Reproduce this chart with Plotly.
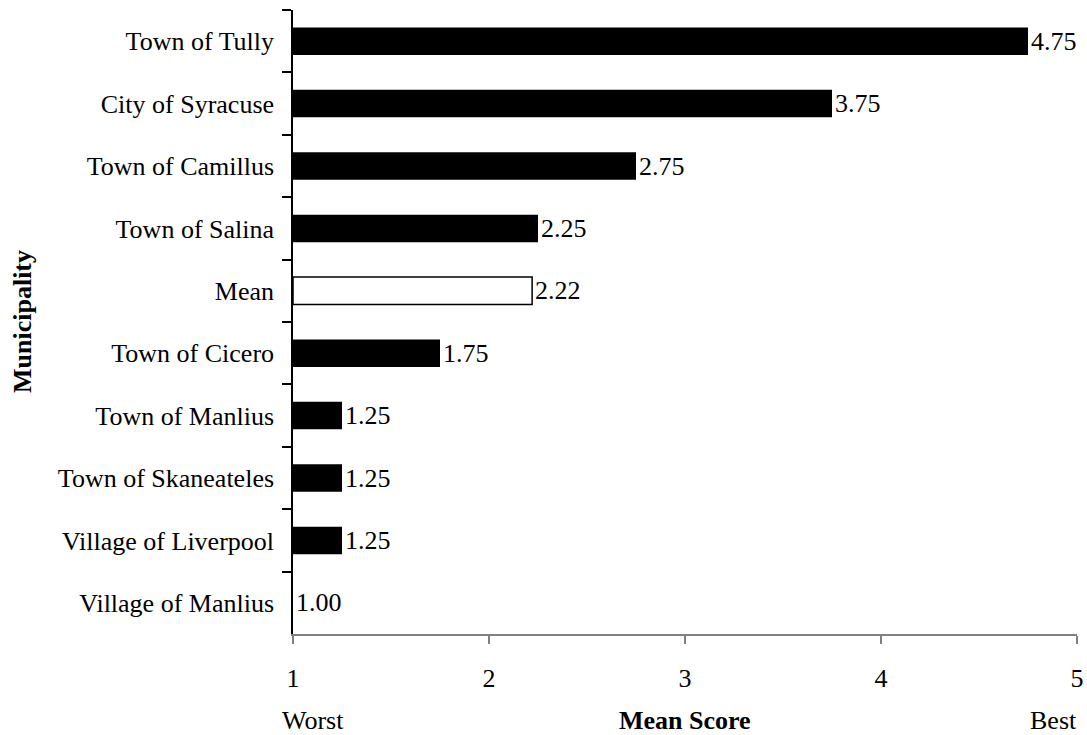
import plotly.graph_objects as go

categories = ["Town of Tully", "City of Syracuse", "Town of Camillus", "Town of Salina",
              "Mean", "Town of Cicero", "Town of Manlius", "Town of Skaneateles",
              "Village of Liverpool", "Village of Manlius"]
scores = [4.75, 3.75, 2.75, 2.25, 2.22, 1.75, 1.25, 1.25, 1.25, 1.00]
x_ticks = [1, 2, 3, 4, 5]
baseline = 1

fills = ["white" if c == "Mean" else "black" for c in categories]
outline = [1.5 if c == "Mean" else 0 for c in categories]

FONT = "Liberation Serif, Times New Roman, serif"
FS = 26

fig = go.Figure()
fig.add_trace(go.Bar(
    y=categories,
    x=[s - baseline for s in scores],
    base=baseline,
    orientation="h",
    width=0.44,
    marker=dict(color=fills, line=dict(color="black", width=outline)),
    text=[f"{s:.2f}" for s in scores],
    textposition="outside",
    textfont=dict(family=FONT, size=FS, color="black"),
    cliponaxis=False,
    showlegend=False,
    hoverinfo="skip",
))

fig.update_layout(
    width=1087, height=735,
    paper_bgcolor="white", plot_bgcolor="white",
    margin=dict(l=293, r=10, t=10, b=101, autoexpand=False),
    font=dict(family=FONT, size=FS, color="black"),
    uniformtext=dict(minsize=FS, mode="show"),
    xaxis=dict(
        range=[1, 5], tickvals=x_ticks, ticktext=[str(t) for t in x_ticks],
        showgrid=False, zeroline=False, automargin=False,
        showline=True, linecolor="#808080", linewidth=2,
        ticks="outside", ticklen=8, tickcolor="#808080", tickwidth=1.5,
        tickfont=dict(family=FONT, size=FS, color="black"),
        ticklabelstandoff=12,
    ),
    yaxis=dict(
        categoryorder="array", categoryarray=categories, autorange="reversed",
        showgrid=False, zeroline=False, automargin=False,
        showline=True, linecolor="black", linewidth=1.5,
        ticks="outside", ticklen=9, tickcolor="black", tickwidth=1.5,
        tickson="boundaries",
        tickfont=dict(family=FONT, size=FS, color="black"),
        ticklabelstandoff=12,
    ),
    annotations=[
        dict(text="<b>Municipality</b>", xref="paper", yref="paper", x=0, y=0.5,
             xanchor="center", yanchor="middle", xshift=-271, textangle=-90,
             showarrow=False, font=dict(family=FONT, size=FS)),
        dict(text="<b>Mean Score</b>", xref="paper", yref="paper", x=0.5, y=0,
             xanchor="center", yanchor="middle", yshift=-86, showarrow=False,
             font=dict(family=FONT, size=FS)),
        dict(text="Worst", xref="paper", yref="paper", x=0, y=0,
             xanchor="left", yanchor="middle", yshift=-86, xshift=-13, showarrow=False,
             font=dict(family=FONT, size=FS)),
        dict(text="Best", xref="paper", yref="paper", x=1, y=0,
             xanchor="right", yanchor="middle", yshift=-86, xshift=2, showarrow=False,
             font=dict(family=FONT, size=FS)),
    ],
)

fig.write_html("out.html", config={"displayModeBar": False},
               post_script="document.body.style.margin='0px';")
